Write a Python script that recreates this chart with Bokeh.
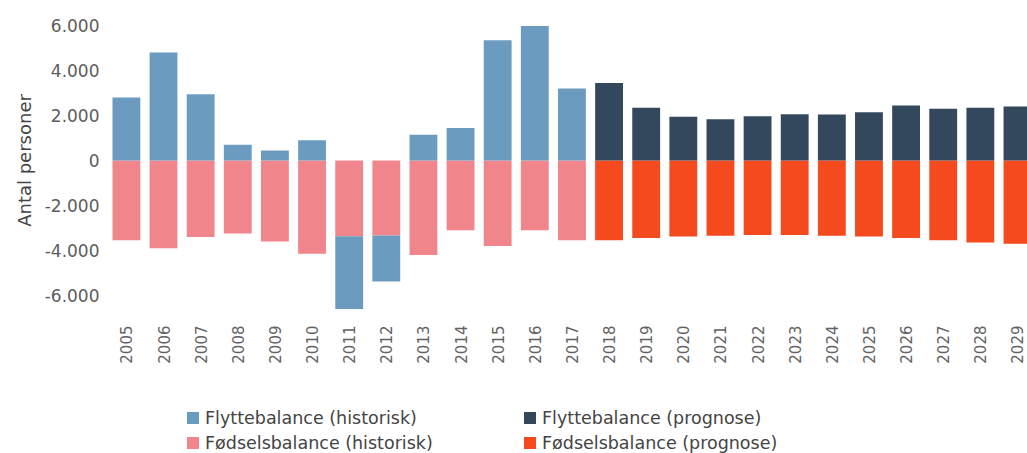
import math
import numpy as np
from bokeh.plotting import figure
from bokeh.layouts import column
from bokeh.models import Range1d, FixedTicker, Legend, LegendItem, ColumnDataSource
from bokeh.embed import file_html
from bokeh.resources import INLINE

# Annual population balance, historical (2005-2017) and prognosis (2018-2029)
years = list(range(2005, 2030))
flyttebalance = [2800, 4800, 2950, 700, 440, 900, -3230, -2050, 1150, 1450,
                 5350, 5980, 3200, 3450, 2350, 1950, 1830, 1970, 2060, 2050,
                 2150, 2450, 2300, 2350, 2400]
foedselsbalance = [-3550, -3900, -3400, -3250, -3600, -4150, -3370, -3330,
                   -4200, -3100, -3800, -3100, -3550, -3550, -3450, -3380,
                   -3340, -3310, -3310, -3340, -3380, -3450, -3550, -3650,
                   -3700]
first_prognosis_year = 2018

y_ticks = [-6000, -4000, -2000, 0, 2000, 4000, 6000]
y_tick_labels = ["-6.000", "-4.000", "-2.000", "0", "2.000", "4.000", "6.000"]

series_labels = {
    "mig_hist": "Flyttebalance (historisk)",
    "birth_hist": "Fødselsbalance (historisk)",
    "mig_prog": "Flyttebalance (prognose)",
    "birth_prog": "Fødselsbalance (prognose)",
}
colors = {
    "mig_hist": "#6b9cc0",
    "birth_hist": "#f0868b",
    "mig_prog": "#33485c",
    "birth_prog": "#f54a1e",
}

FONT = "DejaVu Sans"
TEXT = "#5c5c5c"

# Stack: births below zero; migration above zero, or below the births when negative
yr = np.array(years)
mig = np.array(flyttebalance, dtype=float)
birth = np.array(foedselsbalance, dtype=float)
mig_bottom = np.where(mig >= 0, 0.0, birth)
mig_top = np.where(mig >= 0, mig, birth + mig)
birth_bottom = birth
birth_top = np.zeros_like(birth)

hist = yr < first_prognosis_year
prog = ~hist

def src(mask, bottom, top):
    return ColumnDataSource(dict(x=yr[mask], bottom=bottom[mask], top=top[mask]))

sources = {
    "birth_hist": src(hist, birth_bottom, birth_top),
    "mig_hist": src(hist, mig_bottom, mig_top),
    "birth_prog": src(prog, birth_bottom, birth_top),
    "mig_prog": src(prog, mig_bottom, mig_top),
}

p = figure(
    width=1027, height=366,
    x_range=Range1d(2004.41, 2029.27),
    y_range=Range1d(-6890, 6890),
    output_backend="svg", toolbar_location=None,
    min_border_left=104, min_border_right=0, min_border_top=5,
    min_border_bottom=48,
)
p.outline_line_color = None
p.background_fill_color = "white"
p.border_fill_color = "white"
p.xgrid.visible = False
p.ygrid.visible = False

bar_w = 0.75
for key in ["birth_hist", "mig_hist", "birth_prog", "mig_prog"]:
    p.vbar(x="x", bottom="bottom", top="top", width=bar_w,
           source=sources[key], fill_color=colors[key], line_color=None)

# Axes
xa = p.xaxis[0]
xa.ticker = FixedTicker(ticks=years)
xa.major_label_overrides = {y: str(y) for y in years}
xa.major_label_orientation = math.pi / 2
xa.axis_line_color = None
xa.major_tick_line_color = None
xa.minor_tick_line_color = None
xa.major_tick_out = 0
xa.major_tick_in = 0
xa.major_label_standoff = 10
xa.major_label_text_font = FONT
xa.major_label_text_font_size = "15px"
xa.major_label_text_color = "#636363"

ya = p.yaxis[0]
ya.ticker = FixedTicker(ticks=y_ticks)
ya.major_label_overrides = dict(zip(y_ticks, y_tick_labels))
ya.axis_line_color = None
ya.major_tick_line_color = None
ya.minor_tick_line_color = None
ya.major_tick_out = 0
ya.major_tick_in = 0
ya.major_label_standoff = 5
ya.major_label_text_font = FONT
ya.major_label_text_font_size = "17px"
ya.major_label_text_color = TEXT
ya.axis_label = "Antal personer"
ya.axis_label_text_font = FONT
ya.axis_label_text_font_size = "18px"
ya.axis_label_text_font_style = "normal"
ya.axis_label_text_color = "#444444"
ya.axis_label_standoff = 7

# Legend strip under the chart: historical column and prognosis column.
# Its renderers share the bar sources but stay hidden; only the keys show.
key_panel = figure(
    width=1027, height=87,
    x_range=Range1d(0, 1), y_range=Range1d(0, 1),
    output_backend="svg", toolbar_location=None, min_border=0,
)
key_panel.axis.visible = False
key_panel.grid.visible = False
key_panel.outline_line_color = None
key_renderers = {
    key: key_panel.vbar(x="x", bottom="bottom", top="top", width=bar_w,
                        source=sources[key], fill_color=colors[key],
                        line_color=None, visible=False)
    for key in series_labels
}

def make_legend(keys, loc):
    leg = Legend(
        items=[LegendItem(label=series_labels[k], renderers=[key_renderers[k]]) for k in keys],
        location=loc, orientation="vertical",
    )
    leg.label_text_font = FONT
    leg.label_text_font_size = "17.5px"
    leg.label_text_color = "#444444"
    leg.glyph_width = 15
    leg.glyph_height = 15
    leg.label_height = 25
    leg.label_standoff = 5
    leg.spacing = 0
    leg.padding = 0
    leg.margin = 0
    leg.border_line_color = None
    leg.background_fill_alpha = 0
    leg.inactive_fill_alpha = 0
    leg.click_policy = "none"
    return leg

key_panel.add_layout(make_legend(["mig_hist", "birth_hist"], (81, -2)))
key_panel.add_layout(make_legend(["mig_prog", "birth_prog"], (418, -2)))

layout = column(p, key_panel, spacing=0)
open("out.html", "w").write(file_html(layout, INLINE))
